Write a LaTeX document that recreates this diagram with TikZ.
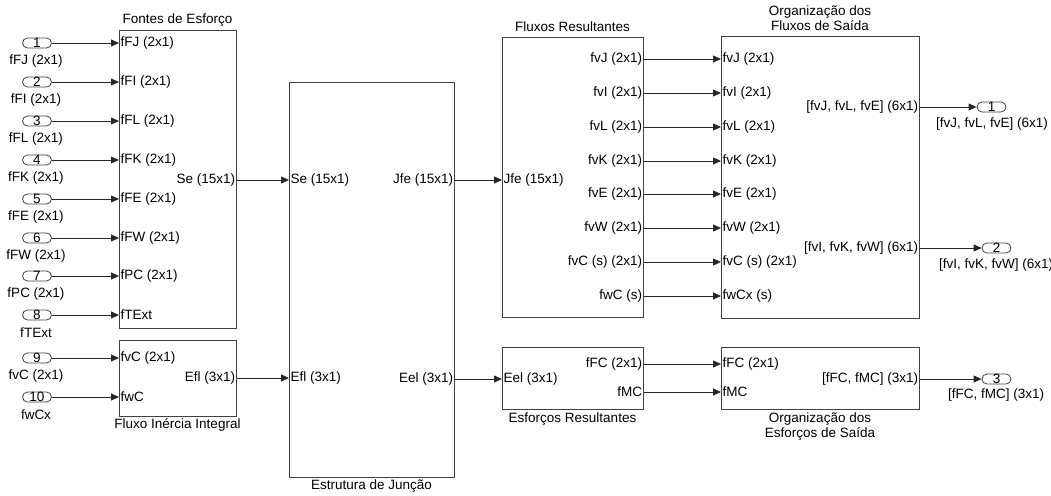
\documentclass[tikz,border=0pt]{standalone}
\usepackage{fontspec}
\setmainfont{Liberation Sans}
\usetikzlibrary{arrows.meta,positioning,calc}

\begin{document}
\begin{tikzpicture}[x=1pt, y=-1pt,
  font=\fontsize{13.5}{15}\selectfont,
  blk/.style={draw=black!75, line width=0.8pt, anchor=north west, inner sep=0pt},
  sig/.style={-{Triangle[length=8pt,width=7pt]}, line width=0.8pt, black!85},
  port/.style={draw=black!75, line width=0.8pt, rounded corners=5pt,
    minimum width=29pt, minimum height=10pt, inner sep=0pt},
  pin/.style={anchor=west, inner sep=1.5pt},
  pout/.style={anchor=east, inner sep=1.5pt},
  ttl/.style={align=center, inner sep=0pt}]

\useasboundingbox (0,0) rectangle (1051,495);

% =================== the blocks ==========================================
\node[blk, minimum width=117pt, minimum height=298pt] (fontes) at (119,30) {};
\node[ttl] at (177.5,20) {Fontes de Esforço};

\node[blk, minimum width=117pt, minimum height=76pt] (inercia) at (119,340) {};
\node[ttl] at (177.5,425) {Fluxo Inércia Integral};

\node[blk, minimum width=165pt, minimum height=395pt] (juncao) at (289,82) {};
\node[ttl] at (371.5,486) {Estrutura de Junção};

\node[blk, minimum width=141pt, minimum height=280pt] (fluxos) at (502,37) {};
\node[ttl] at (572.5,27) {Fluxos Resultantes};

\node[blk, minimum width=198pt, minimum height=282pt] (orgf) at (721,36) {};
\node[ttl] at (820,18.5) {Organização dos\\Fluxos de Saída};

\node[blk, minimum width=141pt, minimum height=62pt] (esfr) at (502,347) {};
\node[ttl] at (572.5,419) {Esforços Resultantes};

\node[blk, minimum width=198pt, minimum height=62pt] (orge) at (721,347) {};
\node[ttl] at (820,426.5) {Organização dos\\Esforços de Saída};

% =================== inputs of the effort sources =========================
\foreach \i/\y/\lab in {1/43/{fFJ (2x1)}, 2/82/{fFI (2x1)}, 3/121/{fFL (2x1)},
    4/160/{fFK (2x1)}, 5/199/{fFE (2x1)}, 6/238/{fFW (2x1)},
    7/276/{fPC (2x1)}, 8/315/{fTExt}} {
  \node[port] (in\i) at (37,\y) {\i};
  \node[inner sep=0pt] (lin\i) at (36,\y+18) {\lab};
  \node[pin] (fe\i) at (fontes.west |- in\i) {\lab};
  \draw[sig] (in\i.east) -- (in\i.east -| fontes.west);
}
\node[pout] (se) at (fontes.east |- 0,180) {Se (15x1)};

% =================== inputs of the integral inertia flow ==================
\foreach \i/\y/\lab in {9/358/{fvC (2x1)}, 10/397/{fwCx}} {
  \node[port] (in\i) at (37,\y) {\i};
  \node[inner sep=0pt] (lin\i) at (36,\y+18) {\lab};
  \draw[sig] (in\i.east) -- (in\i.east -| inercia.west);
}
\node[pin] (fi9) at (inercia.west |- in9) {fvC (2x1)};
\node[pin] (fi10) at (inercia.west |- in10) {fwC};
\node[pout] (efl) at (inercia.east |- 0,378) {Efl (3x1)};

% =================== junction structure ==================================
\node[pin] (jse) at (juncao.west |- se) {Se (15x1)};
\node[pin] (jefl) at (juncao.west |- efl) {Efl (3x1)};
\node[pout] (jfe) at (juncao.east |- se) {Jfe (15x1)};
\node[pout] (eel) at (juncao.east |- 0,379) {Eel (3x1)};
\draw[sig] (se.east -| fontes.east) -- (jse.west -| juncao.west);
\draw[sig] (efl.east -| inercia.east) -- (jefl.west -| juncao.west);

\node[pin] (fjfe) at (fluxos.west |- jfe) {Jfe (15x1)};
\node[pin] (eeel) at (esfr.west |- eel) {Eel (3x1)};
\draw[sig] (jfe.east -| juncao.east) -- (fjfe.west -| fluxos.west);
\draw[sig] (eel.east -| juncao.east) -- (eeel.west -| esfr.west);

% =================== resulting flows -> output organisation ==============
\foreach \i/\y/\a/\b in {1/59/{fvJ (2x1)}/{fvJ (2x1)}, 2/93/{fvI (2x1)}/{fvI (2x1)},
    3/127/{fvL (2x1)}/{fvL (2x1)}, 4/161/{fvK (2x1)}/{fvK (2x1)},
    5/194/{fvE (2x1)}/{fvE (2x1)}, 6/228/{fvW (2x1)}/{fvW (2x1)},
    7/262/{fvC (s) (2x1)}/{fvC (s) (2x1)}, 8/296/{fwC (s)}/{fwCx (s)}} {
  \coordinate (r\i) at (0,\y);
  \node[pout] (fr\i) at (fluxos.east |- r\i) {\a};
  \node[pin] (of\i) at (orgf.west |- r\i) {\b};
  \draw[sig] (fr\i.east -| fluxos.east) -- (of\i.west -| orgf.west);
}

\node[pout] (ofo1) at (orgf.east |- 0,107) {[fvJ, fvL, fvE] (6x1)};
\node[pout] (ofo2) at (orgf.east |- 0,248) {[fvI, fvK, fvW] (6x1)};
\node[port] (out1) at (991.5,107) {1};
\node[port] (out2) at (996.5,248) {2};
\node[inner sep=0pt] (lout1) at (992,124) {[fvJ, fvL, fvE] (6x1)};
\node[inner sep=0pt] (lout2) at (996,265) {[fvI, fvK, fvW] (6x1)};
\draw[sig] (ofo1.east -| orgf.east) -- (out1.west);
\draw[sig] (ofo2.east -| orgf.east) -- (out2.west);

% =================== resulting efforts -> output organisation ============
\node[pout] (efc) at (esfr.east |- 0,364) {fFC (2x1)};
\node[pout] (emc) at (esfr.east |- 0,392) {fMC};
\node[pin] (ofc) at (orge.west |- efc) {fFC (2x1)};
\node[pin] (omc) at (orge.west |- emc) {fMC};
\draw[sig] (efc.east -| esfr.east) -- (ofc.west -| orge.west);
\draw[sig] (emc.east -| esfr.east) -- (omc.west -| orge.west);

\node[pout] (oeo) at (orge.east |- 0,379) {[fFC, fMC] (3x1)};
\node[port] (out3) at (996.5,379) {3};
\node[inner sep=0pt] (lout3) at (996,395) {[fFC, fMC] (3x1)};
\draw[sig] (oeo.east -| orge.east) -- (out3.west);
\end{tikzpicture}
\end{document}
